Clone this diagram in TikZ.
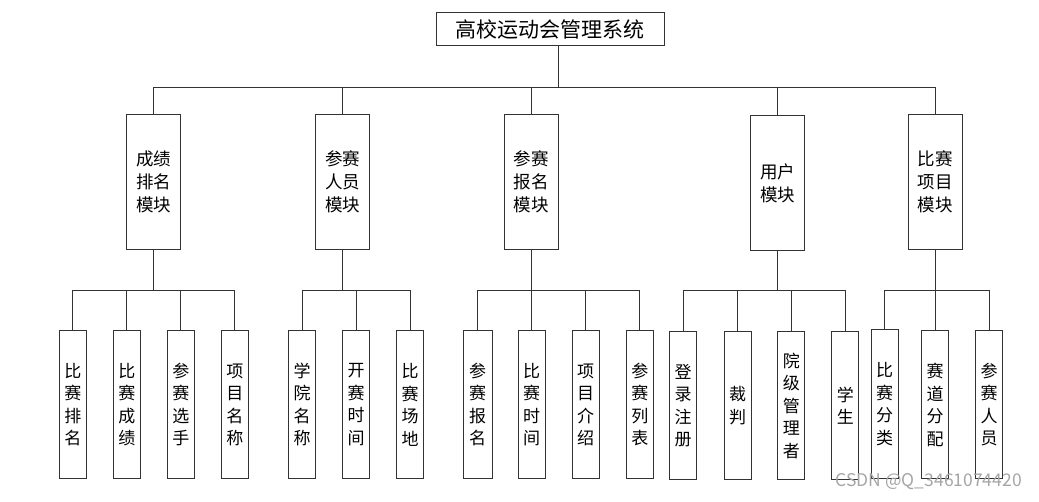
\documentclass[tikz,border=0pt]{standalone}
\usepackage{fontspec}
\setmainfont{Noto Sans CJK SC}
\begin{document}
\begin{tikzpicture}[x=1pt,y=-1pt,
  ln/.style={draw=black!80,line width=1pt},
  rootbox/.style={ln,rectangle,minimum width=228pt,minimum height=33pt,inner sep=0pt,font=\fontsize{21}{24}\selectfont},
  modbox/.style={ln,rectangle,minimum width=54pt,minimum height=135pt,inner sep=0pt,align=center,font=\fontsize{17.5}{23}\selectfont},
  leafbox/.style={ln,rectangle,minimum width=27pt,minimum height=148.5pt,inner sep=0pt,align=center,font=\fontsize{17}{22.5}\selectfont},
  wm/.style={text=black!35,font=\fontsize{17.5}{20}\selectfont,inner sep=0pt}
]
\path[use as bounding box,fill=white] (0,0) rectangle (1039,501);

% root
\node[rootbox] (root) at (550,29) {高校运动会管理系统};

% modules
\node[modbox] (m1) at (153.7,182) {成绩\\排名\\模块};
\node[modbox] (m2) at (342.5,182) {参赛\\人员\\模块};
\node[modbox] (m3) at (531.3,182) {参赛\\报名\\模块};
\node[modbox] (m4) at (777.5,183) {用户\\模块};
\node[modbox] (m5) at (935.2,182) {比赛\\项目\\模块};

% leaves group 1
\node[leafbox] (a1) at (72.8,404.7) {比\\赛\\排\\名};
\node[leafbox] (a2) at (126.8,404.7) {比\\赛\\成\\绩};
\node[leafbox] (a3) at (180.8,404.7) {参\\赛\\选\\手};
\node[leafbox] (a4) at (234.8,404.7) {项\\目\\名\\称};
% group 2
\node[leafbox] (b1) at (302.2,404.7) {学\\院\\名\\称};
\node[leafbox] (b2) at (356.2,404.7) {开\\赛\\时\\间};
\node[leafbox] (b3) at (410.2,404.7) {比\\赛\\场\\地};
% group 3
\node[leafbox,minimum width=29pt] (c1) at (477.7,404.7) {参\\赛\\报\\名};
\node[leafbox] (c2) at (531.5,404.7) {比\\赛\\时\\间};
\node[leafbox] (c3) at (585.5,404.7) {项\\目\\介\\绍};
\node[leafbox] (c4) at (639.8,404.7) {参\\赛\\列\\表};
% group 4
\node[leafbox] (d1) at (683,405.5) {登\\录\\注\\册};
\node[leafbox] (d2) at (737.5,405.5) {裁\\判};
\node[leafbox] (d3) at (791.3,405.5) {院\\级\\管\\理\\者};
\node[leafbox] (d4) at (845.3,405.5) {学\\生};
% group 5
\node[leafbox] (e1) at (884.5,404.2) {比\\赛\\分\\类};
\node[leafbox] (e2) at (935,404.7) {赛\\道\\分\\配};
\node[leafbox] (e3) at (989.2,404.7) {参\\赛\\人\\员};

% root connectors
\coordinate (top) at (0,87.5);
\coordinate (rl) at (558,0);
\draw[ln] (root.south -| rl) -- (rl |- top);
\draw[ln] (m1.north) -- (m1.north |- top) -- (m5.north |- top) -- (m5.north);
\foreach \m in {m2,m3,m4} \draw[ln] (\m.north) -- (\m.north |- top);

% group connectors
\coordinate (bar) at (0,290);
\draw[ln] (m1.south) -- (m1.south |- bar);
\draw[ln] (a1.north) -- (a1.north |- bar) -- (a4.north |- bar) -- (a4.north);
\foreach \l in {a2,a3} \draw[ln] (\l.north) -- (\l.north |- bar);

\draw[ln] (m2.south) -- (m2.south |- bar);
\draw[ln] (b1.north) -- (b1.north |- bar) -- (b3.north |- bar) -- (b3.north);
\draw[ln] (b2.north) -- (b2.north |- bar);

\draw[ln] (m3.south) -- (m3.south |- bar);
\draw[ln] (c1.north) -- (c1.north |- bar) -- (c4.north |- bar) -- (c4.north);
\foreach \l in {c2,c3} \draw[ln] (\l.north) -- (\l.north |- bar);

\draw[ln] (m4.south) -- (m4.south |- bar);
\draw[ln] (d1.north) -- (d1.north |- bar) -- (d4.north |- bar) -- (d4.north);
\foreach \l in {d2,d3} \draw[ln] (\l.north) -- (\l.north |- bar);

\draw[ln] (m5.south) -- (m5.south |- bar);
\draw[ln] (e1.north) -- (e1.north |- bar) -- (e3.north |- bar) -- (e3.north);
\draw[ln] (e2.north) -- (e2.north |- bar);

% watermark
\node[wm,anchor=east] (wmk) at (1022,482) {CSDN @Q\_3461074420};
\end{tikzpicture}
\end{document}
